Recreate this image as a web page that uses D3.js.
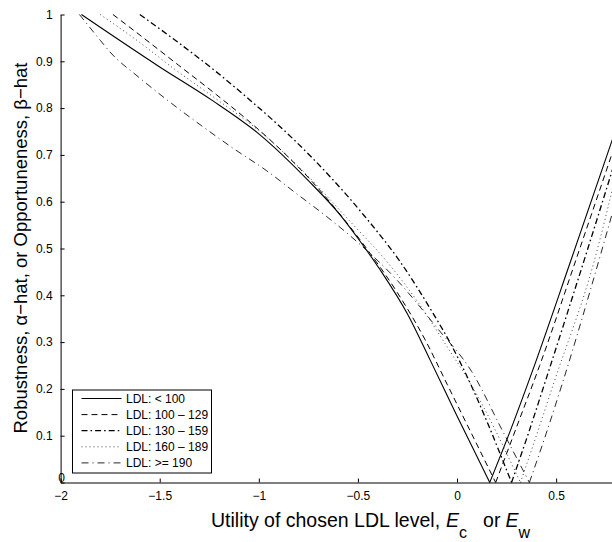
<!DOCTYPE html>
<html>
<head>
<meta charset="utf-8">
<script src="https://cdn.jsdelivr.net/npm/d3@7"></script>
<style>
  body { margin: 0; background: #fff; }
  svg { display: block; font-family: Arial, "Liberation Sans", Helvetica, sans-serif; }
</style>
</head>
<body>
<svg id="drawing_region"></svg>
<script>
// legend labels
const ldl_labels = ['LDL: < 100', 'LDL: 100 \u2013 129', 'LDL: 130 \u2013 159', 'LDL: 160 \u2013 189', 'LDL: >= 190'];

// [utility, robustness / opportuneness]
const ldl_lt100 = [[-1.895, 1.0], [-1.5, 0.888], [-1.237, 0.817], [-1.0, 0.745], [-0.75, 0.645], [-0.59, 0.572],
    [-0.5, 0.522], [-0.389, 0.455], [-0.25, 0.36], [-0.136, 0.262], [0, 0.142], [0.165, 0],
    [0.27, 0.112], [0.382, 0.24], [0.57, 0.469], [0.8, 0.753]];
const ldl_100_129 = [[-1.736, 1.0], [-1.6, 0.956], [-1.406, 0.892], [-1.212, 0.828], [-1.028, 0.764], [-0.843, 0.692],
    [-0.742, 0.648], [-0.575, 0.565], [-0.439, 0.49], [-0.3, 0.405], [-0.161, 0.305], [-0.05, 0.21], [0.195, 0],
    [0.3, 0.118], [0.417, 0.25], [0.605, 0.482], [0.8, 0.725]];
const ldl_130_159 = [[-1.6, 1.0], [-1.406, 0.94], [-1.219, 0.879], [-1.044, 0.817], [-0.829, 0.735], [-0.637, 0.652],
    [-0.468, 0.57], [-0.284, 0.47], [-0.133, 0.37], [-0.024, 0.29], [0.049, 0.228], [0.275, 0],
    [0.36, 0.105], [0.45, 0.222], [0.66, 0.5], [0.8, 0.69]];
const ldl_160_189 = [[-1.8, 1.0], [-1.6, 0.94], [-1.431, 0.885], [-1.2, 0.815], [-1.0, 0.752], [-0.8, 0.675],
    [-0.531, 0.554], [-0.35, 0.47], [-0.2, 0.387], [-0.05, 0.29], [0.07, 0.21], [0.32, 0],
    [0.4, 0.1], [0.49, 0.215], [0.69, 0.47], [0.8, 0.655]];
const ldl_ge190 = [[-1.905, 1.0], [-1.8, 0.945], [-1.751, 0.92], [-1.6, 0.864], [-1.44, 0.81], [-1.288, 0.762],
    [-1.129, 0.714], [-0.96, 0.666], [-0.809, 0.617], [-0.657, 0.568], [-0.506, 0.515], [-0.304, 0.433],
    [-0.1, 0.33], [0.074, 0.237], [0.23, 0.11], [0.365, 0], [0.45, 0.105], [0.53, 0.21], [0.8, 0.6]];

const x_ticks = [-2, -1.5, -1, -0.5, 0, 0.5];
const y_ticks = [0, 0.1, 0.2, 0.3, 0.4, 0.5, 0.6, 0.7, 0.8, 0.9, 1];

var config = {
    parent: '#drawing_region',
    width: 612,
    height: 542,
    margin: { top: 14.5, right: -3.6, bottom: 59.5, left: 60.6 },
};

class RobustnessChart {
    constructor(config, series) {
        this.config = config;
        this.series = series;
        this.init();
    }

    init() {
        let self = this;
        self.inner_width = self.config.width - self.config.margin.left - self.config.margin.right;
        self.inner_height = self.config.height - self.config.margin.top - self.config.margin.bottom;

        self.svg = d3.select(self.config.parent)
            .attr('width', self.config.width)
            .attr('height', self.config.height);

        self.chart = self.svg.append('g')
            .attr('transform', `translate(${self.config.margin.left}, ${self.config.margin.top})`);

        self.xscale = d3.scaleLinear()
            .domain([-2, 0.8])
            .range([0, self.inner_width]);

        self.yscale = d3.scaleLinear()
            .domain([0, 1])
            .range([self.inner_height, 0]);

        // ticks point inwards, like matlab
        self.xaxis = d3.axisBottom(self.xscale)
            .tickValues(x_ticks)
            .tickFormat(d3.format(''))
            .tickSizeInner(-4)
            .tickSizeOuter(0)
            .tickPadding(9);

        self.yaxis = d3.axisLeft(self.yscale)
            .tickValues(y_ticks)
            .tickFormat(d => (d === 0 || d === 1) ? String(d) : d.toFixed(1))
            .tickSizeInner(-4)
            .tickSizeOuter(0)
            .tickPadding(8);

        self.line = d3.line()
            .x(d => self.xscale(d[0]))
            .y(d => self.yscale(d[1]))
            .curve(d3.curveMonotoneX);
    }

    render() {
        let self = this;
        // solid, dashed, dash-dot (heavy dots), dotted, dash-dot
        const styles = [
            { dash: null, width: 1.1, color: '#000' },
            { dash: '6,4', width: 1, color: '#000' },
            { dash: '6,3,1.6,3', width: 1.3, color: '#000' },
            { dash: '1,3', width: 1, color: '#444' },
            { dash: '7,4,1,4', width: 0.9, color: '#111' },
        ];

        // split every curve at its minimum: robustness branch and opportuneness branch
        const branches = [];
        self.series.forEach((s, i) => {
            const k = d3.minIndex(s, d => d[1]);
            branches.push({ i: i, pts: s.slice(0, k + 1) });
            branches.push({ i: i, pts: s.slice(k) });
        });

        self.chart.selectAll('.curve')
            .data(branches)
            .enter()
            .append('path')
            .attr('class', 'curve')
            .attr('d', d => self.line(d.pts))
            .attr('fill', 'none')
            .attr('stroke', d => styles[d.i].color)
            .attr('stroke-width', d => styles[d.i].width)
            .attr('stroke-dasharray', d => styles[d.i].dash);

        const xg = self.chart.append('g')
            .attr('transform', `translate(0, ${self.inner_height})`)
            .call(self.xaxis);
        const yg = self.chart.append('g')
            .call(self.yaxis);
        [xg, yg].forEach(g => {
            g.selectAll('path, line').attr('stroke', '#000').attr('stroke-width', 1);
            g.selectAll('text').attr('font-size', 12).attr('fill', '#000')
                .attr('font-family', 'Arial, "Liberation Sans", sans-serif');
        });
        // the "0" label sits on the axis corner, right above the "-2" label in the original
        yg.selectAll('.tick text')
            .filter(d => d === 0)
            .attr('text-anchor', 'middle')
            .attr('x', 1)
            .attr('dy', '-0.05em');

        // legend
        const legend = self.svg.append('g')
            .attr('transform', 'translate(72.5, 390)');
        legend.append('rect')
            .attr('width', 139)
            .attr('height', 83)
            .attr('fill', '#fff')
            .attr('stroke', '#000')
            .attr('stroke-width', 1);
        const items = legend.selectAll('.item')
            .data(ldl_labels)
            .enter()
            .append('g')
            .attr('transform', (d, i) => `translate(0, ${8.5 + i * 16.1})`);
        items.append('line')
            .attr('x1', 9).attr('x2', 49)
            .attr('stroke', (d, i) => styles[i].color)
            .attr('stroke-width', (d, i) => styles[i].width)
            .attr('stroke-dasharray', (d, i) => styles[i].dash);
        items.append('text')
            .attr('x', 53.5)
            .attr('dy', '0.35em')
            .attr('font-size', 12)
            .text(d => d);

        // axis titles
        const xt = self.svg.append('text')
            .attr('x', 211)
            .attr('y', 527)
            .attr('font-size', 19.5);
        xt.append('tspan').text('Utility of chosen LDL level,');
        xt.append('tspan').attr('dx', 6).attr('font-style', 'italic').text('E');
        xt.append('tspan').attr('dy', 11).attr('font-size', 16).text('c');
        xt.append('tspan').attr('dy', -11).attr('dx', 16).text('or');
        xt.append('tspan').attr('dx', 5).attr('font-style', 'italic').text('E');
        xt.append('tspan').attr('dy', 11).attr('font-size', 16).text('w');

        self.svg.append('text')
            .attr('transform', 'translate(27, 248) rotate(-90)')
            .attr('text-anchor', 'middle')
            .attr('font-size', 18.5)
            .text('Robustness, \u03b1\u2212hat, or Opportuneness, \u03b2\u2212hat');
    }
}

let chart = new RobustnessChart(config, [ldl_lt100, ldl_100_129, ldl_130_159, ldl_160_189, ldl_ge190]);
chart.render();
</script>
</body>
</html>
